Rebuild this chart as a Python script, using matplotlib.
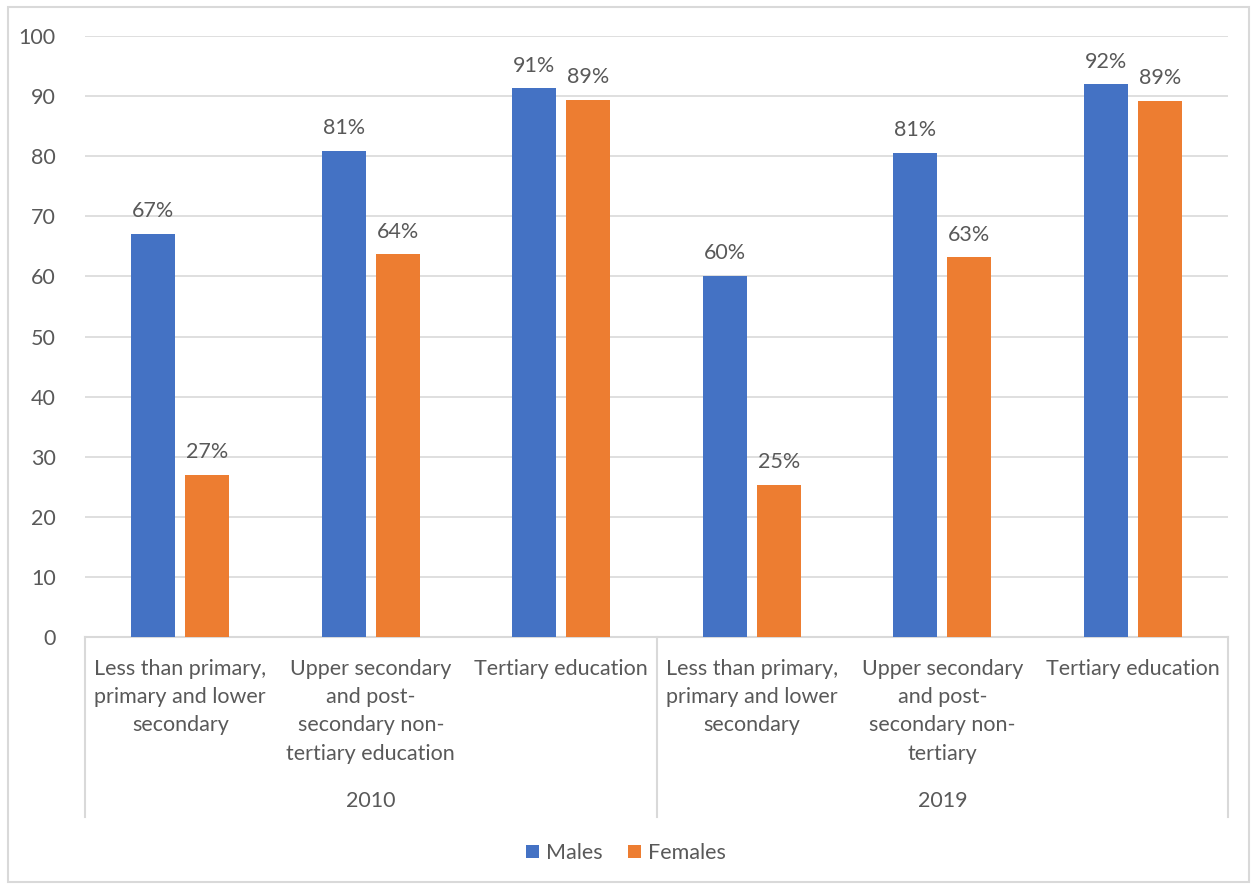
import matplotlib.pyplot as plt
import numpy as np
from matplotlib.patches import Rectangle

years = ['2010', '2019']
categories = [
    'Less than primary,\nprimary and lower\nsecondary',
    'Upper secondary\nand post-\nsecondary non-\ntertiary education',
    'Tertiary education',
    'Less than primary,\nprimary and lower\nsecondary',
    'Upper secondary\nand post-\nsecondary non-\ntertiary',
    'Tertiary education',
]
males = [67.1, 80.9, 91.3, 60.1, 80.6, 92.0]
females = [27.0, 63.7, 89.4, 25.3, 63.2, 89.2]

blue = '#4472c4'
orange = '#ed7d31'
text_col = '#595959'
grid_col = '#d9d9d9'
fs = 15.5

plt.rcParams['font.family'] = ['Lato', 'DejaVu Sans']

fig = plt.figure(figsize=(12.52, 8.85), dpi=100)
ax = fig.add_axes([0.0679, 0.2802, 0.9130, 0.6791])

x = np.arange(len(categories))
w = 0.23
off = 0.142
b1 = ax.bar(x - off, males, w, color=blue, label='Males', zorder=3)
b2 = ax.bar(x + off, females, w, color=orange, label='Females', zorder=3)

for bars, vals in [(b1, males), (b2, females)]:
    for r, v in zip(bars, vals):
        ax.annotate(f'{v:.0f}%', (r.get_x() + r.get_width() / 2, v),
                    xytext=(0, 9), textcoords='offset points',
                    ha='center', va='bottom', fontsize=fs, color=text_col)

ax.set_ylim(0, 100)
ax.set_xlim(-0.5, len(categories) - 0.5)
ax.set_yticks(range(0, 101, 10))
ax.tick_params(axis='y', length=0, labelsize=fs, labelcolor=text_col, pad=21)
ax.set_xticks([])
ax.grid(axis='y', color=grid_col, lw=1.2, zorder=0)
for s in ['top', 'right', 'left']:
    ax.spines[s].set_visible(False)
ax.spines['bottom'].set_color(grid_col)
ax.spines['bottom'].set_linewidth(1.5)

# category labels and year groups under the axis
tr = ax.get_xaxis_transform()
for xi, lab in zip(x, categories):
    ax.text(xi, -0.036, lab, transform=tr, ha='center', va='top',
            fontsize=fs, color=text_col, linespacing=1.52)
for i, yr in enumerate(years):
    ax.text(i * 3 + 1, -0.273, yr, transform=tr, ha='center', va='center',
            fontsize=fs, color=text_col)
for xs in [-0.5, 2.5, 5.5]:
    ax.plot([xs, xs], [0, -0.30], transform=tr, color=grid_col, lw=1.5,
            clip_on=False)

fig.legend(loc='center', bbox_to_anchor=(0.5, 0.036), ncol=2, frameon=False,
           fontsize=fs, handlelength=0.6, handleheight=0.6, handletextpad=0.3,
           columnspacing=1.2, labelcolor=text_col)

fig.patches.append(Rectangle((0.006, 0.003), 0.992, 0.989, transform=fig.transFigure,
                             fill=False, edgecolor=grid_col, lw=1.5))

plt.savefig('out.png', dpi=100)
